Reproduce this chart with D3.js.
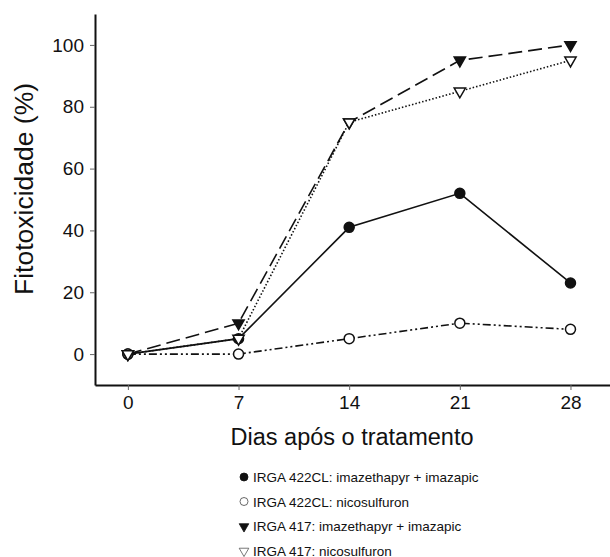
<!DOCTYPE html>
<html>
<head>
<meta charset="utf-8">
<script src="https://cdn.jsdelivr.net/npm/d3@7"></script>
<style>
  body { margin: 0; background: #fff; }
  text { font-family: "Liberation Sans", Arial, sans-serif; fill: #111; }
</style>
</head>
<body>
<svg width="610" height="557"></svg>
<script>
// days after treatment
const days = [0, 7, 14, 21, 28];
const yTicks = [0, 20, 40, 60, 80, 100];

const irga422Imaz = [0, 5, 41, 52, 23];
const irga422Nico = [0, 0, 5, 10, 8];
const irga417Imaz = [0, 10, 75, 95, 100];
const irga417Nico = [0, 5, 75, 85, 95];

const seriesNames = [
  'IRGA 422CL: imazethapyr + imazapic',
  'IRGA 422CL: nicosulfuron',
  'IRGA 417: imazethapyr + imazapic',
  'IRGA 417: nicosulfuron'
];

let series = [
  { name: seriesNames[0], values: irga422Imaz, dash: null, mark: 'circle', fill: '#111' },
  { name: seriesNames[1], values: irga422Nico, dash: '8,3,2,3,2,3', mark: 'circle', fill: '#fff' },
  { name: seriesNames[2], values: irga417Imaz, dash: '14,6', mark: 'tri', fill: '#111' },
  { name: seriesNames[3], values: irga417Nico, dash: '1.5,2', mark: 'tri', fill: '#fff' }
];

let svg = d3.select('svg');

const plotLeft = 95, plotTop = 14, plotBottom = 385, plotRight = 610;

let x = d3.scaleLinear().domain([-2.08, 30.5]).range([plotLeft, plotRight]);
let y = d3.scaleLinear().domain([-10, 110]).range([plotBottom, plotTop]);

// axes
let xAxis = svg.append('g')
  .attr('transform', 'translate(0,' + plotBottom + ')')
  .call(d3.axisBottom(x).tickValues(days).tickSize(5).tickPadding(6).tickSizeOuter(0));
let yAxis = svg.append('g')
  .attr('transform', 'translate(' + plotLeft + ',0)')
  .call(d3.axisLeft(y).tickValues(yTicks).tickSize(5).tickPadding(6).tickSizeOuter(0));

[xAxis, yAxis].forEach(function(a) {
  a.select('.domain').attr('stroke', '#111').attr('stroke-width', 2);
  a.selectAll('.tick line').attr('stroke', '#666');
  a.selectAll('.tick text').style('font-size', '19px').attr('fill', '#111');
});

svg.append('text')
  .attr('x', 352).attr('y', 445)
  .attr('text-anchor', 'middle')
  .style('font-size', '23.5px')
  .text('Dias após o tratamento');

svg.append('text')
  .attr('transform', 'translate(33,189) rotate(-90)')
  .attr('text-anchor', 'middle')
  .style('font-size', '26.5px')
  .text('Fitotoxicidade (%)');

let line = d3.line()
  .x(function(d, i) { return x(days[i]); })
  .y(function(d) { return y(d); });

let tri = d3.symbol().type(d3.symbolTriangle).size(55);

function drawMark(g, s, cx, cy, scale) {
  if (s.mark == 'circle') {
    g.append('circle')
      .attr('cx', cx).attr('cy', cy).attr('r', 5 * scale)
      .attr('fill', s.fill).attr('stroke', '#111').attr('stroke-width', 1.5);
  } else {
    g.append('path')
      .attr('d', tri)
      .attr('transform', 'translate(' + cx + ',' + cy + ') rotate(180) scale(' + scale + ')')
      .attr('fill', s.fill).attr('stroke', '#111').attr('stroke-width', 1.5 / scale);
  }
}

// lines
series.forEach(function(s) {
  svg.append('path')
    .datum(s.values)
    .attr('d', line)
    .attr('fill', 'none')
    .attr('stroke', '#111')
    .attr('stroke-width', 1.6)
    .attr('stroke-dasharray', s.dash);
});

// markers
series.forEach(function(s) {
  let g = svg.append('g');
  s.values.forEach(function(v, i) {
    drawMark(g, s, x(days[i]), y(v), 1);
  });
});

// legend
let legend = svg.append('g');
series.forEach(function(s, i) {
  let ly = 477 + i * 24.5;
  let g = legend.append('g');
  if (s.mark == 'circle') {
    g.append('circle').attr('cx', 244).attr('cy', ly).attr('r', 4)
      .attr('fill', s.fill).attr('stroke', s.fill == '#fff' ? '#444' : '#111').attr('stroke-width', 0.8);
  } else {
    g.append('path')
      .attr('d', d3.symbol().type(d3.symbolTriangle).size(40))
      .attr('transform', 'translate(244,' + (ly + 0.5) + ') rotate(180)')
      .attr('fill', s.fill).attr('stroke', s.fill == '#fff' ? '#555' : '#111').attr('stroke-width', 0.8);
  }
  g.append('text')
    .attr('x', 253).attr('y', ly + 5)
    .style('font-size', '13.5px')
    .text(s.name);
});
</script>
</body>
</html>
